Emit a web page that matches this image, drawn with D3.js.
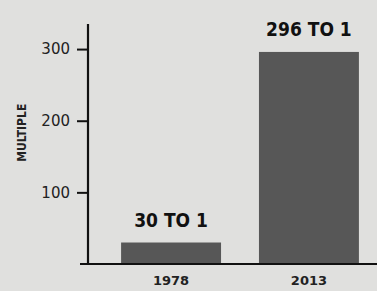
<!DOCTYPE html>
<html>
<head>
<meta charset="utf-8">
<script src="https://cdn.jsdelivr.net/npm/d3@7"></script>
<style>
body { margin: 0; background: #e0e0de; }
svg { display: block; }
</style>
</head>
<body>
<div id="chart"></div>
<script>
var years = ["1978", "2013"];
var multiples = [30, 296];
var valueLabels = ["30 TO 1", "296 TO 1"];
var yTicks = [100, 200, 300];

var W = 377, H = 291;
var margin = {top: 24, right: 10, bottom: 27, left: 88};
var width = W - margin.left - margin.right;
var height = H - margin.top - margin.bottom;

var svg = d3.select("#chart").append("svg").attr("width", W).attr("height", H);
svg.append("rect").attr("width", W).attr("height", H).attr("fill", "#e0e0de");
var g = svg.append("g").attr("transform", "translate(" + margin.left + "," + margin.top + ")");

var x = d3.scaleBand()
  .domain(years)
  .range([0, 304])
  .paddingInner(0.275)
  .paddingOuter(0.24);
var y = d3.scaleLinear()
  .domain([0, 335])
  .range([height, 0]);

var data = years.map(function(d, i) { return {year: d, value: multiples[i], label: valueLabels[i]}; });

g.selectAll(".bar")
  .data(data)
  .enter().append("rect")
  .attr("class", "bar")
  .attr("x", function(d) { return x(d.year); })
  .attr("y", function(d) { return y(d.value); })
  .attr("width", x.bandwidth())
  .attr("height", function(d) { return height - y(d.value); })
  .attr("fill", "#575757");

g.selectAll(".vlabel")
  .data(data)
  .enter().append("text")
  .attr("class", "vlabel")
  .attr("x", function(d) { return x(d.year) + x.bandwidth() / 2; })
  .attr("y", function(d) { return y(d.value) - 16; })
  .attr("text-anchor", "middle")
  .style("font", "bold 19px 'DejaVu Sans Condensed', 'DejaVu Sans'")
  .attr("fill", "#111")
  .text(function(d) { return d.label; });

// y axis
var yAxis = g.append("g")
  .call(d3.axisLeft(y).tickValues(yTicks).tickSize(11).tickPadding(7));
yAxis.select(".domain").remove();
yAxis.selectAll(".tick line").attr("stroke", "#111").attr("stroke-width", 2);
yAxis.selectAll(".tick text").style("font", "15px 'DejaVu Sans'").attr("fill", "#222");
g.append("line")
  .attr("x1", 0).attr("x2", 0)
  .attr("y1", 0).attr("y2", height)
  .attr("stroke", "#111").attr("stroke-width", 2.2);

// x axis
var xAxis = g.append("g")
  .attr("transform", "translate(0," + height + ")")
  .call(d3.axisBottom(x).tickSize(0).tickPadding(12));
xAxis.select(".domain").remove();
xAxis.selectAll(".tick text").style("font", "13px 'DejaVu Sans'").style("font-weight", "600").attr("fill", "#222");
g.append("line")
  .attr("x1", -8).attr("x2", width + margin.right)
  .attr("y1", height).attr("y2", height)
  .attr("stroke", "#111").attr("stroke-width", 2.2);

g.append("text")
  .attr("transform", "translate(-62," + (y(200) + 12) + ") rotate(-90)")
  .attr("text-anchor", "middle")
  .style("font", "bold 12px 'DejaVu Sans Condensed', 'DejaVu Sans'")
  .attr("fill", "#222")
  .text("MULTIPLE");
</script>
</body>
</html>
